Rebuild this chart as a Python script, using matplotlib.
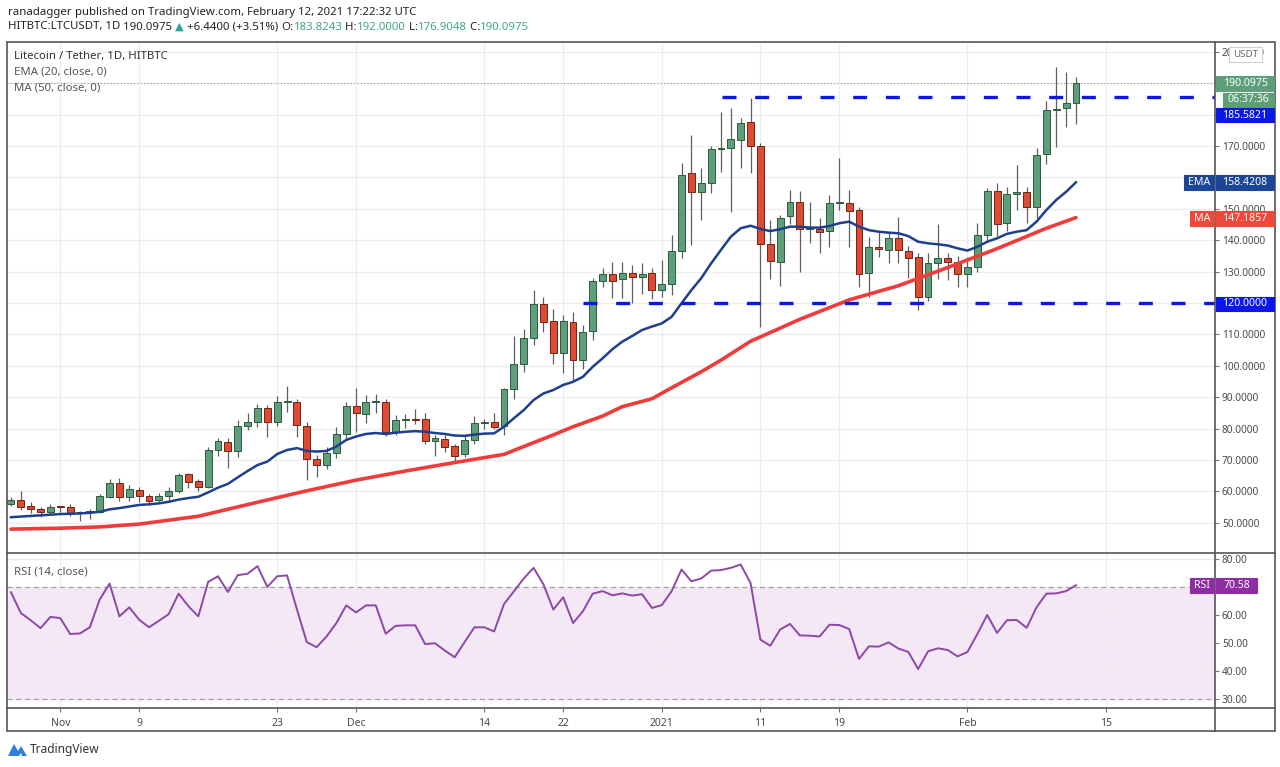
import matplotlib
matplotlib.use("Agg")
import matplotlib.pyplot as plt
import numpy as np
import pandas as pd
from matplotlib.patches import Rectangle, Polygon
from matplotlib.lines import Line2D

plt.rcParams["font.family"] = ["Noto Sans", "DejaVu Sans"]

W, H = 1280, 767

# daily candles, Oct 27 2020 .. Feb 12 2021 (HITBTC LTC/USDT)
dates = pd.date_range("2020-10-27", "2021-02-12", freq="D")
opens = [56.0, 57.3, 55.5, 54.3, 53.3, 55.1, 54.9, 53.0, 53.3, 53.5,
         58.3, 62.6, 58.3, 60.4, 58.7, 57.4, 58.5, 60.1, 65.4, 63.3,
         61.5, 73.2, 75.9, 72.9, 80.9, 82.2, 86.7, 82.2, 88.4, 88.6,
         80.9, 70.2, 68.4, 72.1, 78.4, 87.3, 84.6, 88.6, 88.6, 78.8,
         82.6, 83.2, 83.0, 76.1, 76.8, 74.4, 71.8, 76.4, 81.7, 82.0,
         80.9, 92.5, 100.6, 108.8, 119.6, 114.3, 104.0, 113.9, 101.8, 111.1,
         127.1, 129.2, 127.5, 129.7, 128.4, 129.7, 124.1, 126.0, 136.7, 161.3,
         155.3, 158.3, 168.9, 169.5, 171.9, 177.6, 170.1, 138.8, 133.1, 147.7,
         152.1, 143.6, 143.5, 142.9, 151.7, 151.9, 149.6, 129.5, 137.9, 136.9,
         140.6, 136.7, 134.6, 121.8, 132.8, 134.2, 133.2, 129.2, 131.6, 141.8,
         155.8, 145.4, 154.7, 155.3, 150.5, 167.5, 181.5, 182.2, 183.82]
highs = [58.3, 60.1, 56.5, 55.0, 56.0, 55.5, 55.9, 53.8, 54.5, 59.3,
         63.9, 64.4, 62.0, 61.5, 59.3, 59.5, 61.3, 66.0, 66.0, 64.0,
         74.0, 77.0, 77.0, 82.7, 85.1, 87.8, 87.5, 90.5, 93.6, 89.5,
         82.0, 71.5, 74.1, 80.6, 88.5, 92.8, 90.6, 91.0, 89.5, 84.2,
         84.6, 86.2, 84.9, 78.1, 78.0, 75.0, 77.5, 84.0, 83.0, 84.9,
         93.0, 109.5, 111.7, 124.1, 122.0, 118.0, 116.3, 117.2, 113.0, 128.0,
         131.0, 133.0, 133.0, 132.0, 132.6, 131.0, 133.7, 141.7, 164.7, 173.5,
         162.9, 170.0, 180.7, 182.0, 179.0, 185.2, 171.0, 146.4, 148.0, 156.0,
         155.7, 152.1, 147.0, 154.5, 166.3, 156.0, 150.5, 141.1, 142.5, 142.2,
         147.3, 138.0, 136.0, 136.0, 145.2, 136.0, 135.0, 134.5, 145.6, 156.5,
         158.3, 157.0, 164.0, 157.0, 169.2, 184.4, 195.1, 193.7, 192.0]
lows = [55.3, 54.1, 53.0, 51.9, 52.8, 53.5, 52.3, 50.7, 51.3, 53.0,
        57.8, 56.9, 57.0, 56.5, 55.8, 56.5, 57.0, 59.5, 61.0, 60.2,
        61.0, 71.4, 67.5, 71.0, 79.5, 80.5, 77.4, 80.9, 85.4, 77.4,
        63.6, 64.7, 67.0, 70.5, 76.5, 79.0, 81.8, 85.1, 77.5, 78.0,
        80.3, 81.4, 75.2, 71.4, 72.5, 69.5, 71.0, 75.0, 80.0, 80.0,
        78.0, 89.5, 98.0, 106.5, 110.8, 100.7, 97.6, 95.3, 99.0, 108.2,
        125.2, 121.5, 121.6, 119.9, 123.0, 121.4, 122.0, 122.5, 134.3, 138.5,
        146.4, 155.0, 161.8, 149.1, 162.9, 161.5, 112.2, 127.5, 125.4, 145.0,
        130.0, 139.2, 136.0, 137.9, 149.5, 137.9, 125.2, 122.0, 134.5, 132.8,
        132.8, 127.9, 117.8, 120.5, 127.5, 127.3, 125.2, 125.2, 130.0, 140.0,
        141.3, 143.0, 149.6, 145.4, 147.0, 164.3, 169.8, 175.9, 176.9]
closes = [57.3, 55.1, 54.3, 53.3, 55.1, 54.9, 53.2, 53.3, 53.9, 58.5,
          62.6, 58.3, 60.7, 58.6, 57.0, 58.7, 60.1, 65.2, 63.1, 61.5,
          73.2, 76.1, 72.9, 80.9, 82.2, 86.7, 82.2, 88.4, 88.8, 81.2,
          70.2, 68.4, 72.1, 78.4, 87.3, 84.9, 88.6, 88.9, 78.8, 82.6,
          83.0, 82.8, 76.1, 76.9, 74.0, 71.4, 76.4, 81.7, 82.2, 80.6,
          92.5, 100.6, 108.8, 119.6, 114.0, 104.0, 114.3, 101.8, 110.9, 127.1,
          129.2, 127.1, 129.7, 128.4, 129.3, 124.0, 126.1, 136.7, 160.6, 155.3,
          158.3, 168.9, 169.3, 172.2, 177.4, 170.1, 138.8, 133.3, 147.2, 152.1,
          143.6, 143.9, 142.5, 151.7, 152.1, 149.4, 129.2, 137.9, 137.2, 140.6,
          136.8, 134.2, 122.0, 132.8, 134.2, 133.2, 129.2, 131.6, 141.8, 155.7,
          145.1, 154.7, 155.3, 150.5, 167.0, 181.5, 181.7, 183.8, 190.0975]

ema20 = [51.8, 52.0, 52.2, 52.4, 52.6, 52.8, 52.9, 53.0, 53.2, 53.5,
         54.3, 54.7, 55.2, 55.7, 55.9, 56.2, 56.7, 57.4, 57.9, 58.3,
         59.7, 61.2, 62.4, 64.5, 66.5, 68.4, 69.5, 71.9, 73.2, 73.8,
         72.9, 72.7, 72.9, 74.3, 76.4, 77.5, 78.3, 78.6, 78.3, 78.7,
         79.0, 79.2, 79.0, 78.6, 78.3, 77.8, 77.7, 78.1, 78.4, 78.5,
         80.6, 83.3, 85.9, 89.1, 91.2, 92.3, 93.9, 94.9, 96.5, 99.7,
         102.4, 105.3, 107.7, 109.5, 111.4, 112.5, 113.5, 115.6, 119.9, 124.1,
         127.9, 132.6, 136.9, 141.1, 143.8, 144.6, 143.6, 142.9, 143.5, 144.3,
         144.3, 144.0, 144.0, 144.5, 145.4, 145.9, 144.3, 143.2, 142.7, 142.4,
         142.2, 141.3, 139.5, 139.0, 138.7, 138.3, 137.4, 136.7, 137.9, 139.5,
         140.6, 142.0, 142.7, 143.2, 145.9, 149.6, 152.8, 155.4, 158.4208]

ma50_dates = ["2020-10-27", "2020-11-01", "2020-11-05", "2020-11-09", "2020-11-15",
              "2020-11-22", "2020-11-26", "2020-12-01", "2020-12-06", "2020-12-11",
              "2020-12-16", "2020-12-18", "2020-12-21", "2020-12-23", "2020-12-26",
              "2020-12-28", "2020-12-31", "2021-01-02", "2021-01-05", "2021-01-07",
              "2021-01-10", "2021-01-15", "2021-01-20", "2021-01-25", "2021-01-30",
              "2021-02-04", "2021-02-09", "2021-02-12"]
ma50 = [48.0, 48.3, 48.7, 49.6, 52.1, 57.3, 60.2, 63.6, 66.5, 69.2,
        71.8, 74.3, 78.0, 80.6, 84.0, 87.0, 89.5, 93.0, 98.1, 101.8,
        107.8, 114.8, 121.0, 125.5, 131.3, 137.3, 143.8, 147.1857]

rsi14 = [68.1, 60.7, 58.1, 55.3, 59.3, 58.9, 53.2, 53.4, 55.6, 65.5,
         71.2, 59.5, 62.7, 58.3, 55.6, 57.9, 60.3, 67.6, 63.1, 59.5,
         71.8, 73.8, 68.2, 74.2, 74.7, 77.4, 70.0, 73.8, 74.1, 62.0,
         50.3, 48.5, 52.3, 57.1, 63.4, 60.9, 63.4, 63.4, 53.3, 56.1,
         56.3, 56.3, 49.6, 49.9, 47.3, 44.9, 50.3, 55.6, 55.6, 54.1,
         63.9, 68.4, 73.0, 76.8, 70.9, 61.9, 66.3, 57.1, 61.3, 67.6,
         68.5, 67.0, 67.7, 66.9, 67.4, 62.5, 63.5, 68.5, 76.2, 72.0,
         73.0, 75.8, 76.0, 76.8, 78.0, 71.4, 51.2, 49.0, 54.8, 56.8,
         52.7, 52.6, 52.3, 56.5, 56.4, 55.0, 44.3, 48.8, 48.7, 50.2,
         48.0, 46.8, 40.7, 47.0, 48.1, 47.5, 45.2, 46.8, 53.2, 60.0,
         53.6, 58.1, 58.2, 55.4, 62.7, 67.6, 67.7, 68.5, 70.58]

resistance = 185.5821
support = 120.0
tick_dates = ["2020-11-01", "2020-11-09", "2020-11-23", "2020-12-01", "2020-12-14",
              "2020-12-22", "2021-01-01", "2021-01-11", "2021-01-19", "2021-02-01",
              "2021-02-15"]
tick_labels = ["Nov", "9", "23", "Dec", "14", "22", "2021", "11", "19", "Feb", "15"]
price_ticks = [50, 60, 70, 80, 90, 100, 110, 120, 130, 140, 150, 160, 170, 180, 190, 200]
hidden_price = [160, 180, 190]   # sit under the value tags
rsi_ticks = [30, 40, 50, 60, 70, 80]

GREEN = "#5e9e79"
GREEN_EDGE = "#2c5a40"
RED = "#dd4b32"
RED_EDGE = "#6e2417"
GRID = "#ededed"
TXT = "#4a4a4a"

t0 = pd.Timestamp("2020-11-01")
x = np.array((dates - t0).days, dtype=float)
xt = np.array((pd.to_datetime(tick_dates) - t0).days, dtype=float)
xma = np.array((pd.to_datetime(ma50_dates) - t0).days, dtype=float)
o, h, l, c = (np.array(v) for v in (opens, highs, lows, closes))


def fbox(x0, y0, x1, y1):
    return [x0 / W, 1 - y1 / H, (x1 - x0) / W, (y1 - y0) / H]


fig = plt.figure(figsize=(W / 100, H / 100), dpi=100)
ax = fig.add_axes(fbox(7, 42, 1215, 553))
axr = fig.add_axes(fbox(7, 553, 1215, 708))

for a in (ax, axr):
    a.set_xlim(-5.4, 117.1)
    for s in a.spines.values():
        s.set_visible(False)
    a.set_xticks(xt)
    a.grid(True, color=GRID, lw=0.9)
    a.set_axisbelow(True)
    a.yaxis.tick_right()
    a.tick_params(axis="y", length=3, width=0.8, color="#777", labelcolor=TXT,
                  labelsize=7.3, pad=2)

ax.set_ylim(40.4, 203.1)
ax.set_yticks(price_ticks)
ax.set_yticklabels(["" if v in hidden_price else f"{v:.4f}" for v in price_ticks])
ax.tick_params(axis="x", length=0, labelbottom=False)

# candles
up = c >= o
ax.vlines(x, l, h, colors="#5f5f5f", lw=0.9, zorder=2)
ax.bar(x, np.maximum(np.abs(c - o), 0.35), bottom=np.minimum(o, c), width=0.7,
       color=np.where(up, GREEN, RED), edgecolor=np.where(up, GREEN_EDGE, RED_EDGE),
       linewidth=0.7, zorder=3)

ax.plot(x, ema20, color="#1d3f8e", lw=1.8, zorder=4)
ax.plot(xma, ma50, color="#f03b3b", lw=2.6, zorder=4, solid_capstyle="round",
        solid_joinstyle="round")

# last price dotted line and the two dashed levels
ax.axhline(closes[-1], color="#9a9a9a", lw=0.8, ls=(0, (1, 2)), zorder=1)
ax.hlines(resistance, 67.1, 117.1, colors="#0b16e8", lw=2.4, linestyles=(0, (4.2, 5.6)), zorder=5)
ax.hlines(support, 53.0, 117.1, colors="#0b16e8", lw=2.4, linestyles=(0, (4.2, 5.6)), zorder=5)

# RSI panel
axr.set_ylim(26.8, 82.1)
axr.set_yticks(rsi_ticks)
axr.set_yticklabels(["" if v == 70 else f"{v:.2f}" for v in rsi_ticks])
axr.axhspan(30, 70, color="#9c27b0", alpha=0.1, lw=0, zorder=0)
for lv in (30, 70):
    axr.axhline(lv, color="#a8a0a8", lw=0.9, ls=(0, (4, 3)), zorder=1)
axr.plot(x, rsi14, color="#8e47a6", lw=1.4, zorder=3)
axr.set_xticklabels(tick_labels)
axr.tick_params(axis="x", length=3, width=0.8, color="#777", labelcolor=TXT,
                labelsize=7.5, pad=4)


# frame
def fline(x0, y0, x1, y1, color="#555", lw=1.2):
    fig.add_artist(Line2D([x0 / W, x1 / W], [1 - y0 / H, 1 - y1 / H], color=color, lw=lw))


fig.add_artist(Rectangle((7 / W, 1 - 731 / H), 1268 / W, 689 / H, fill=False,
                         edgecolor="#555", lw=1.2))
fline(7, 553, 1275, 553)
fline(7, 708, 1275, 708)
fline(1215, 42, 1215, 731)


# text helpers
def runs(parts, x0, y, size):
    r = fig.canvas.get_renderer()
    xx = x0
    for s, col, wt in parts:
        t = fig.text(xx / W, 1 - y / H, s, color=col, fontsize=size, fontweight=wt,
                     va="center", ha="left")
        xx += t.get_window_extent(r).width


def tag(x0, y0, x1, y1, face, s, tc="white", size=7.6, edge=None):
    fig.add_artist(Rectangle((x0 / W, 1 - y1 / H), (x1 - x0) / W, (y1 - y0) / H,
                             facecolor=face, edgecolor=edge or face, lw=0.8, zorder=5))
    fig.text((x0 + x1) / 2 / W, 1 - (y0 + y1) / 2 / H, s, color=tc, fontsize=size,
             ha="center", va="center", zorder=6)


DARK = "#222"
TEAL = "#3fa68a"
runs([("ranadagger", DARK, "bold"),
      (" published on TradingView.com, February 12, 2021 17:22:32 UTC", DARK, "normal")],
     8, 12, 8.2)
runs([("HITBTC:LTCUSDT, 1D", DARK, "bold"), (" 190.0975 ", DARK, "normal"),
      ("▲", "#26a69a", "normal"), (" +6.4400 (+3.51%) ", DARK, "normal"),
      ("O:", DARK, "bold"), ("183.8243", TEAL, "normal"),
      (" H:", DARK, "bold"), ("192.0000", TEAL, "normal"),
      (" L:", DARK, "bold"), ("176.9048", TEAL, "normal"),
      (" C:", DARK, "bold"), ("190.0975", TEAL, "normal")],
     8, 27, 8.2)

fig.text(14 / W, 1 - 56 / H, "Litecoin / Tether, 1D, HITBTC", color="#333", fontsize=8.2,
         va="center")
fig.text(14 / W, 1 - 72 / H, "EMA (20, close, 0)", color="#555", fontsize=8.2, va="center")
fig.text(14 / W, 1 - 88 / H, "MA (50, close, 0)", color="#555", fontsize=8.2, va="center")
fig.text(14 / W, 1 - 572 / H, "RSI (14, close)", color="#555", fontsize=8.2, va="center")

# price scale labels
tag(1229, 47, 1262, 62, "white", "USDT", tc="#666", size=7, edge="#cfcfcf")
tag(1216, 76, 1274, 91, "#5e9e79", "190.0975")
tag(1223, 93, 1274, 107, "#5e9e79", "06:37:36")
tag(1216, 108, 1274, 122, "#0b16e8", "185.5821")
tag(1184, 175, 1214, 190, "#1b4595", "EMA")
tag(1216, 175, 1274, 190, "#1b4595", "158.4208")
tag(1190, 211, 1214, 226, "#f0473a", "MA")
tag(1216, 211, 1274, 226, "#f0473a", "147.1857")
tag(1216, 297, 1274, 311, "#0b16e8", "120.0000")
tag(1190, 578, 1214, 593, "#8e2da4", "RSI")
tag(1216, 578, 1257, 593, "#8e2da4", "70.58")

# TradingView logo
logo = [(8, 756), (14, 744), (18, 751), (21, 746), (27, 756), (22, 756), (21, 753), (19, 756)]
fig.add_artist(Polygon([(px / W, 1 - py / H) for px, py in logo], closed=True,
                       facecolor="#2f80d8", edgecolor="none"))
fig.text(30 / W, 1 - 749 / H, "TradingView", color="#333", fontsize=8.6, va="center")

fig.savefig("out.png", dpi=100, facecolor="white")
